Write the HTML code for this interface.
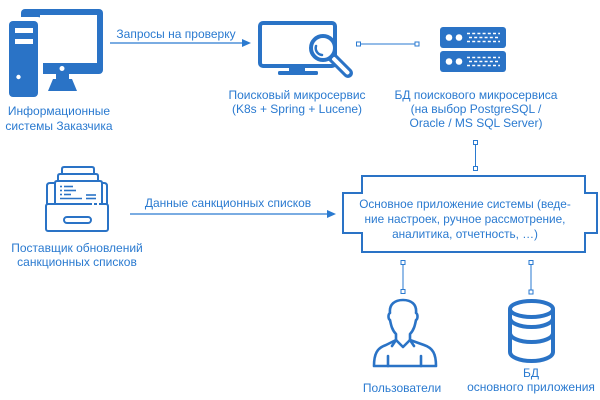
<!DOCTYPE html>
<html><head><meta charset="utf-8"><style>
html,body{margin:0;padding:0;background:#fff;}
svg{display:block;}
text{font-family:"Liberation Sans",Arial,sans-serif;font-size:12px;fill:#2a7ad0;text-anchor:middle;}
text.box{font-size:11.8px;}
</style></head><body>
<svg width="600" height="400" viewBox="0 0 600 400" xmlns="http://www.w3.org/2000/svg">
<!-- Computer icon -->
<g>
<rect x="21" y="9" width="82" height="65" rx="4" fill="#2a73c6"/>
<rect x="40" y="15" width="57" height="48" fill="#fff"/>
<circle cx="62" cy="68.5" r="2.5" fill="#fff"/>
<rect x="56" y="73" width="13" height="7" fill="#2a73c6"/>
<polygon points="53,79 72,79 77,91 48,91" fill="#2a73c6"/>
<rect x="5" y="17" width="38" height="84" rx="5" fill="#fff"/>
<rect x="9" y="21" width="29" height="76" rx="4" fill="#2a73c6"/>
<rect x="15" y="28" width="18" height="5" fill="#fff"/>
<rect x="15" y="39" width="18" height="5" fill="#fff"/>
<circle cx="18.5" cy="77" r="2.2" fill="#fff"/>
</g>
<!-- arrow 1 -->
<line x1="110" y1="43" x2="244" y2="43" stroke="#2a7ad0" stroke-width="1.2"/>
<polygon points="251,43 242,39 242,47" fill="#2a7ad0"/>
<text x="176" y="38">Запросы на проверку</text>
<text x="59" y="115">Информационные</text>
<text x="59" y="130">системы Заказчика</text>

<!-- Search monitor -->
<g fill="none" stroke="#2a73c6">
<rect x="260" y="23" width="75" height="43" rx="3" stroke-width="4"/>
</g>
<rect x="289" y="66" width="16" height="6" fill="#2a73c6"/>
<rect x="278" y="71" width="40" height="4" rx="1.5" fill="#2a73c6"/>
<line x1="332" y1="57" x2="348" y2="73" stroke="#2a73c6" stroke-width="10" stroke-linecap="round"/>
<line x1="334" y1="59" x2="347.5" y2="72.5" stroke="#fff" stroke-width="4" stroke-linecap="round"/>
<circle cx="323" cy="48" r="12" fill="#fff" stroke="#2a73c6" stroke-width="4"/>
<path d="M316,46 A7,7 0 0 0 322,55" fill="none" stroke="#2a73c6" stroke-width="2.5" stroke-linecap="round"/>
<text x="297" y="99">Поисковый микросервис</text>
<text x="297" y="113">(K8s + Spring + Lucene)</text>

<!-- connector search-db -->
<line x1="360" y1="44" x2="415" y2="44" stroke="#2a7ad0" stroke-width="1"/>
<rect x="356.5" y="42" width="4" height="4" fill="#fff" stroke="#2a7ad0" stroke-width="1"/>
<rect x="415" y="42" width="4" height="4" fill="#fff" stroke="#2a7ad0" stroke-width="1"/>

<!-- Server icon -->
<rect x="440" y="27" width="66" height="21" rx="3" fill="#2a73c6"/>
<rect x="440" y="51" width="66" height="21" rx="3" fill="#2a73c6"/>
<circle cx="449" cy="37.5" r="3.3" fill="#fff"/>
<circle cx="459" cy="37.5" r="3.3" fill="#fff"/>
<circle cx="449" cy="61.5" r="3.3" fill="#fff"/>
<circle cx="459" cy="61.5" r="3.3" fill="#fff"/>
<g stroke="#fff" stroke-width="1.4" stroke-dasharray="3 2.2">
<line x1="467" y1="33.5" x2="500" y2="33.5"/>
<line x1="469" y1="37.5" x2="500" y2="37.5"/>
<line x1="467" y1="41.5" x2="500" y2="41.5"/>
<line x1="467" y1="57.5" x2="500" y2="57.5"/>
<line x1="469" y1="61.5" x2="500" y2="61.5"/>
<line x1="467" y1="65.5" x2="500" y2="65.5"/>
</g>
<text x="476" y="99">БД поискового микросервиса</text>
<text x="476" y="113">(на выбор PostgreSQL /</text>
<text x="476" y="127">Oracle / MS SQL Server)</text>

<!-- vertical connector db-main -->
<line x1="475.5" y1="144" x2="475.5" y2="167" stroke="#2a7ad0" stroke-width="1"/>
<rect x="473.5" y="140.5" width="4" height="4" fill="#fff" stroke="#2a7ad0" stroke-width="1"/>
<rect x="473.5" y="166.5" width="4" height="4" fill="#fff" stroke="#2a7ad0" stroke-width="1"/>

<!-- Main box -->
<path d="M362,176 H585 V193 H597 V233 H585 V252 H362 V233 H343 V193 H362 Z" fill="#fff" stroke="#2a73c6" stroke-width="2"/>
<text class="box" x="465" y="208">Основное приложение системы (веде-</text>
<text class="box" x="465" y="223">ние настроек, ручное рассмотрение,</text>
<text class="box" x="465" y="238">аналитика, отчетность, …)</text>

<!-- Provider icon -->
<g fill="none" stroke="#2a73c6" stroke-width="2">
<path d="M62,174 V169 Q62,167 64,167 H92 Q94,167 94,169 V174"/>
<path d="M58,181 V176 Q58,174 60,174 H96 Q98,174 98,176 V181"/>
<path d="M47,204 V186 Q47,183 50,183 H55"/>
<path d="M107,204 V186 Q107,183 104,183 H102"/>
<path d="M55,204 V183 Q55,181 57,181 H100 Q102,181 102,183 V204"/>
<rect x="46" y="204" width="62" height="27" rx="2"/>
<rect x="64" y="217" width="27" height="6" rx="3"/>
</g>
<g stroke="#2a73c6" stroke-width="1.6">
<line x1="60" y1="186.5" x2="62" y2="186.5"/><line x1="64" y1="186.5" x2="73" y2="186.5"/>
<line x1="60" y1="190.5" x2="62" y2="190.5"/><line x1="64" y1="190.5" x2="76" y2="190.5"/>
<line x1="60" y1="194.5" x2="62" y2="194.5"/><line x1="64" y1="194.5" x2="71" y2="194.5"/><line x1="86" y1="195" x2="96" y2="195"/>
<line x1="60" y1="198.5" x2="82" y2="198.5"/><line x1="86" y1="198.5" x2="96" y2="198.5"/>
</g>
<g stroke="#fff" stroke-width="2"><line x1="92" y1="204" x2="94" y2="204"/><line x1="97" y1="204" x2="99" y2="204"/></g>
<text x="77" y="252">Поставщик обновлений</text>
<text x="77" y="266">санкционных списков</text>

<!-- arrow 2 -->
<line x1="130" y1="214" x2="329" y2="214" stroke="#2a7ad0" stroke-width="1.2"/>
<polygon points="336,214 327,210 327,218" fill="#2a7ad0"/>
<text x="228" y="207">Данные санкционных списков</text>

<!-- bottom connectors -->
<line x1="403" y1="264" x2="403" y2="290" stroke="#2a7ad0" stroke-width="1"/>
<rect x="401" y="260.5" width="4" height="4" fill="#fff" stroke="#2a7ad0" stroke-width="1"/>
<rect x="401" y="289.5" width="4" height="4" fill="#fff" stroke="#2a7ad0" stroke-width="1"/>
<line x1="531" y1="264" x2="531" y2="291" stroke="#2a7ad0" stroke-width="1"/>
<rect x="529" y="260.5" width="4" height="4" fill="#fff" stroke="#2a7ad0" stroke-width="1"/>
<rect x="529" y="290" width="4" height="4" fill="#fff" stroke="#2a7ad0" stroke-width="1"/>

<!-- Person icon -->
<g fill="none" stroke="#2a73c6" stroke-width="2.6" stroke-linejoin="round" stroke-linecap="round">
<path d="M396,334 C392,330 391,325 390,320 C388,319 388,314 390,313 C389,304 395,300 403,300 C411,300 417,304 416,313 C418,314 418,319 416,320 C415,325 414,330 410,334 L410,340 L424,345 C433,348 436,354 436,366 L374,366 C374,354 377,348 386,345 L396,340 Z"/>
<path d="M396,340 L403,347 L410,340"/>
<path d="M396,340 L392,346 M410,340 L414,346"/>
<line x1="388" y1="356" x2="388" y2="366"/>
<line x1="421" y1="356" x2="421" y2="366"/>
</g>
<text x="402" y="392">Пользователи</text>

<!-- DB cylinder -->
<g fill="none" stroke="#2a73c6" stroke-width="4">
<ellipse cx="531.5" cy="309" rx="21.5" ry="8"/>
<path d="M510,309 V352 A21.5,9 0 0 0 553,352 V309"/>
<path d="M510,318 A21.5,9 0 0 0 553,318"/>
<path d="M510,333 A21.5,9 0 0 0 553,333"/>
</g>
<text x="531" y="377">БД</text>
<text x="531" y="391">основного приложения</text>
</svg>
</body></html>
